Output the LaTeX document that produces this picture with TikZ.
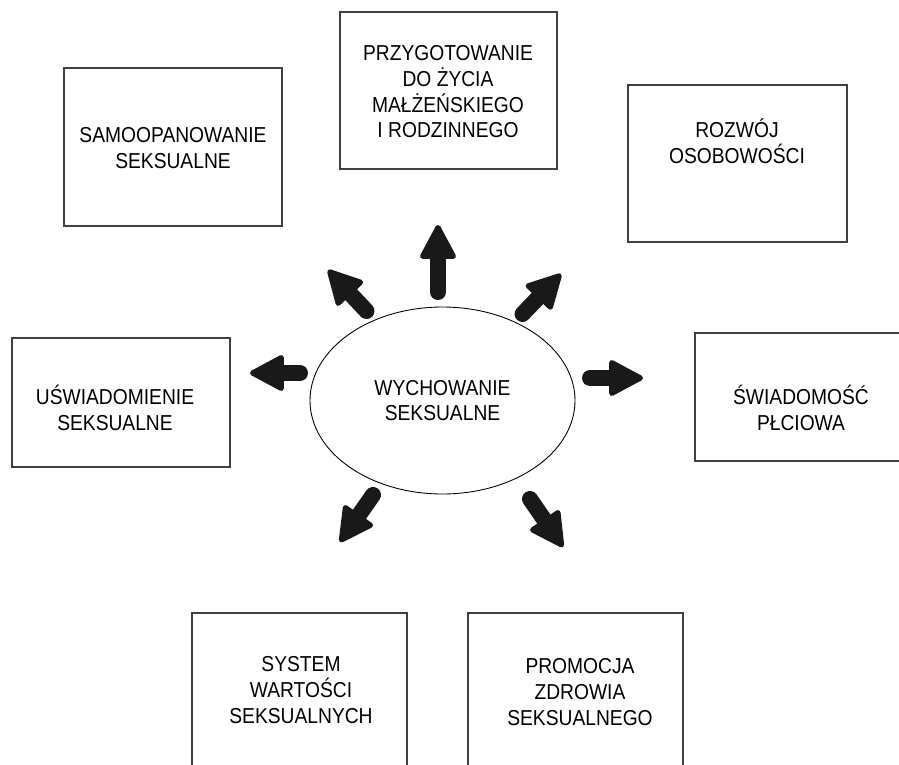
\documentclass[tikz,border=0pt]{standalone}
\usepackage{fontspec}
\setmainfont{Liberation Sans}[FakeStretch=0.89]
\usetikzlibrary{arrows.meta,shapes.geometric}
\def\pxu{0.02cm}
\tikzstyle{box}=[draw=black!75, line width=0.6pt, rectangle, inner sep=0pt]
\tikzstyle{lbl}=[align=center, inner sep=0pt, font=\fontsize{12.3}{14.6}\selectfont]
\tikzstyle{blockarrow}=[%
	draw = black!90,
	line width = 0.32cm,
	line cap = round,
	-{Triangle[round, line width=3pt, width=0.76cm, length=0.74cm]}
]

\begin{document}
\begin{tikzpicture}[x=\pxu, y=-\pxu]
	% Page, clip
	\useasboundingbox (0,0) rectangle (899,764);
	\clip (0,0) rectangle (899,764);

	% Centre
	\node[draw, ellipse, line width=0.5pt, inner sep=0pt, minimum width=265*\pxu, minimum height=187*\pxu, lbl] (wych) at (442.5,400.5) {WYCHOWANIE\\SEKSUALNE};

	% Boxes
	\foreach \n/\x/\y/\w/\h in {samo/173/147/218/158, przy/448.5/90.5/217/157, rozw/737.5/163.5/219/157, swiad/801/397/212/128, usw/121/402.5/218/129, syst/299.5/694/215/162, prom/575.5/694/215/162} {
		\node[box, minimum width=\w*\pxu, minimum height=\h*\pxu] (\n) at (\x,\y) {};
	}

	% Texts
	\node[lbl] (samo-t) at (173,148) {SAMOOPANOWANIE\\SEKSUALNE};
	\node[lbl] (przy-t) at (448,92) {PRZYGOTOWANIE\\DO ŻYCIA\\MAŁŻEŃSKIEGO\\I RODZINNEGO};
	\node[lbl] (rozw-t) at (737,141) {ROZWÓJ\\OSOBOWOŚCI};
	\node[lbl] (swiad-t) at (801,408) {ŚWIADOMOŚĆ\\PŁCIOWA};
	\node[lbl] (usw-t) at (115,408) {UŚWIADOMIENIE\\SEKSUALNE};
	\node[lbl] (syst-t) at (301,690) {SYSTEM\\WARTOŚCI\\SEKSUALNYCH};
	\node[lbl] (prom-t) at (580,692) {PROMOCJA\\ZDROWIA\\SEKSUALNEGO};

	% Arrows
	\coordinate (up-s) at (438,292);     \coordinate (up-e) at (438,225);
	\coordinate (ul-s) at (366.5,311);   \coordinate (ul-e) at (328,270);
	\coordinate (ur-s) at (522.5,314);   \coordinate (ur-e) at (561,274);
	\coordinate (le-s) at (300,373);     \coordinate (le-e) at (250,373);
	\coordinate (ri-s) at (590,378);     \coordinate (ri-e) at (643,378);
	\coordinate (ll-s) at (373,495);     \coordinate (ll-e) at (340,542);
	\coordinate (lr-s) at (530,499);     \coordinate (lr-e) at (563,547);
	\foreach \a in {up,ul,ur,le,ri,ll,lr} {
		\draw[blockarrow] (\a-s) -- (\a-e);
	}

\end{tikzpicture}
\end{document}
